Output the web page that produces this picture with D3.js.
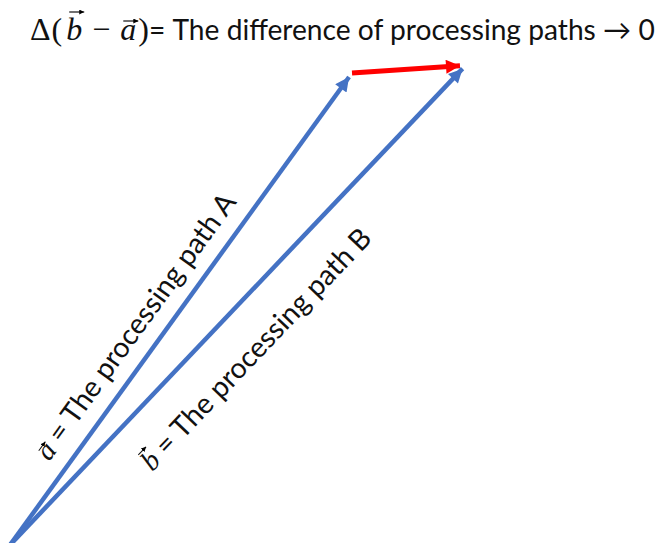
<!DOCTYPE html>
<html>
<head>
<meta charset="utf-8">
<script src="https://cdn.jsdelivr.net/npm/d3@7"></script>
<style>
  body { margin: 0; background: #fff; }
</style>
</head>
<body>
<div id="chart"></div>
<script>
// vectors, in plot units (origin at bottom left)
const vecNames = ["a", "b"];
const vecX = [342, 456];
const vecY = [472, 480];
const vecLabels = [" = The processing path A", " = The processing path B"];
const labelAt = [0.43, 0.47];      // where the label sits along the vector
const labelOffset = [17, -53];     // baseline offset, perpendicular to the vector
const titleMath = ["\u0394", "(", "b", " \u2212 ", "a", ")"];
const titleText = "= The difference of processing paths \u2192 0";

const width = 662, height = 543;
const blue = "#4472C4", red = "#FF0000";
const sans = "Lato, 'Open Sans', sans-serif";
const serif = "'Liberation Serif', 'DejaVu Serif', serif";

const x = d3.scaleLinear().domain([0, 456]).range([10, 466]);
const y = d3.scaleLinear().domain([0, 480]).range([545, 65]);

const svg = d3.select("#chart")
    .append("svg")
    .attr("width", width)
    .attr("height", height);

const defs = svg.append("defs");
function marker(id, color, w, h) {
    defs.append("marker")
        .attr("id", id)
        .attr("viewBox", "0 0 10 10")
        .attr("refX", 10)
        .attr("refY", 5)
        .attr("markerUnits", "userSpaceOnUse")
        .attr("markerWidth", w)
        .attr("markerHeight", h)
        .attr("orient", "auto")
        .append("path")
        .attr("d", "M0,0L10,5L0,10Z")
        .attr("fill", color);
}
marker("headBlue", blue, 15, 14);
marker("headRed", red, 16, 14);
marker("headSmall", "#000", 5, 5);

// draws a line that stops short so the head tip lands on (x2,y2)
function arrow(x1, y1, x2, y2, color, w, head, cut) {
    const dx = x2 - x1, dy = y2 - y1, L = Math.hypot(dx, dy);
    svg.append("line")
        .attr("x1", x1).attr("y1", y1)
        .attr("x2", x2 - dx / L * cut).attr("y2", y2 - dy / L * cut)
        .attr("stroke", color)
        .attr("stroke-width", w)
        .attr("marker-end", "url(#" + head + ")");
}

const vectors = vecNames.map((n, i) => ({ name: n, vx: vecX[i], vy: vecY[i], label: vecLabels[i], t: labelAt[i], off: labelOffset[i] }));

// difference vector b - a (drawn first, under the blue heads)
arrow(x(vecX[0]), y(vecY[0]), x(vecX[1]) - 2, y(vecY[1]) + 0.5, red, 5, "headRed", 4);

vectors.forEach(v => {
    arrow(x(0), y(0), x(v.vx), y(v.vy), blue, 4.5, "headBlue", 5);
});

// labels along the vectors
vectors.forEach(v => {
    const px = x(v.vx) - x(0), py = y(v.vy) - y(0), L = Math.hypot(px, py);
    const ux = px / L, uy = py / L;
    const nx = uy, ny = -ux; // "up" side of the rotated text
    const cx = x(0) + px * v.t + nx * v.off;
    const cy = y(0) + py * v.t + ny * v.off;
    const ang = Math.atan2(py, px) * 180 / Math.PI;
    const g = svg.append("g").attr("transform", `translate(${cx},${cy}) rotate(${ang})`);
    const t = g.append("text")
        .attr("text-anchor", "middle")
        .style("font-size", "28.5px")
        .attr("fill", "#111");
    t.append("tspan").text(v.name).style("font-family", serif).style("font-style", "italic");
    t.append("tspan").text(v.label).style("font-family", sans);
    const box = t.node().getExtentOfChar(0);
    const yy = box.y + (v.name == "b" ? 3 : 10);
    g.append("line")
        .attr("x1", box.x + 3).attr("x2", box.x + box.width)
        .attr("y1", yy).attr("y2", yy)
        .attr("stroke", "#111").attr("stroke-width", 1)
        .attr("marker-end", "url(#headSmall)");
});

// title
const mathDx = [0, 1, 4, 2, 2, 2];
const title = svg.append("text")
    .attr("x", 30)
    .attr("y", 40)
    .style("font-size", "32px")
    .attr("fill", "#111");
titleMath.forEach((s, i) => {
    title.append("tspan")
        .text(s)
        .attr("dx", mathDx[i])
        .style("font-family", serif)
        .style("font-style", (s == "a" || s == "b") ? "italic" : "normal");
});
const rest = title.append("tspan").text(titleText).style("font-family", sans).style("font-size", "29px");

// fit the plain part of the title so it ends near the right edge
const nMath = titleMath.join("").length;
const startX = title.node().getStartPositionOfChar(nMath).x;
const restLen = rest.node().getComputedTextLength();
rest.style("font-size", (29 * (655 - startX) / restLen) + "px");

let idx = 0;
titleMath.forEach(s => {
    if (s == "a" || s == "b") {
        const box = title.node().getExtentOfChar(idx);
        const yy = box.y + (s == "b" ? 1 : 10);
        svg.append("line")
            .attr("x1", box.x + 3).attr("x2", box.x + box.width + 2)
            .attr("y1", yy).attr("y2", yy)
            .attr("stroke", "#111").attr("stroke-width", 1.2)
            .attr("marker-end", "url(#headSmall)");
    }
    idx += s.length;
});
</script>
</body>
</html>
